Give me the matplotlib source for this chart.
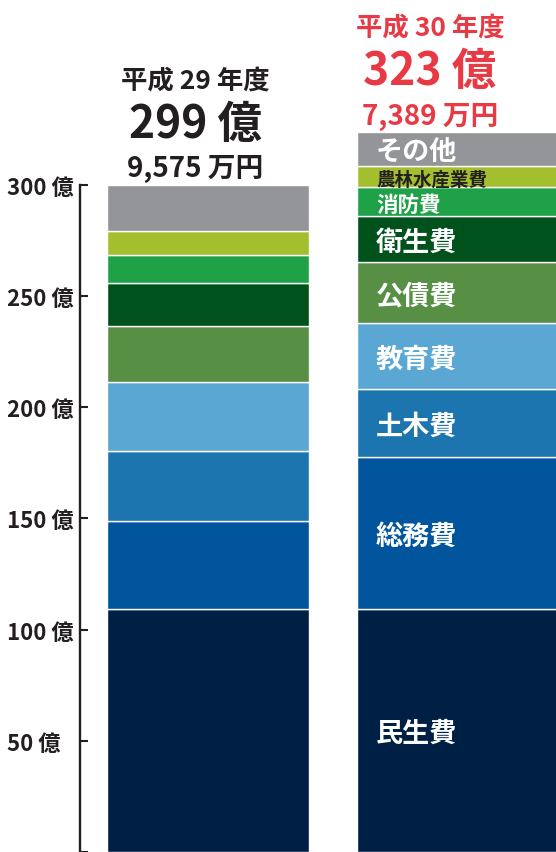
import matplotlib
matplotlib.use("Agg")
import matplotlib.pyplot as plt
import numpy as np

plt.rcParams["font.family"] = ["Noto Sans CJK JP", "DejaVu Sans"]

# data (億円), bottom to top
categories = ["民生費", "総務費", "土木費", "教育費", "公債費", "衛生費", "消防費", "農林水産業費", "その他"]
h29 = [109.2, 39.7, 31.5, 31.0, 25.0, 19.4, 12.8, 10.8, 20.56]
h30 = [109.4, 68.3, 30.7, 29.4, 27.4, 20.7, 13.2, 9.4, 15.2]
years = ["平成 29 年度", "平成 30 年度"]
totals_oku = ["299 億", "323 億"]
totals_man = ["9,575 万円", "7,389 万円"]
yticks = [0, 50, 100, 150, 200, 250, 300]
ytick_labels = ["", "50 億", "100 億", "150 億", "200 億", "250 億", "300 億"]

colors = ["#001F45", "#01559D", "#1D75AF", "#5AA7D3", "#578F45",
          "#00521C", "#1FA147", "#A4BF2E", "#939598"]
label_colors = ["white"] * 7 + ["#231F20", "white"]
label_sizes = [19.5, 19.5, 19.5, 19.5, 19.5, 19.5, 15.5, 13.3, 19.5]
dark = "#231F20"
red = "#E83A45"

W, H = 556, 853
fig = plt.figure(figsize=(W / 100, H / 100), dpi=100)
px_per_unit = 2.224
ax_left = 80
ax = fig.add_axes([ax_left / W, 0, 1 - ax_left / W, 1])

bar_w = 202 / 250
x = np.arange(2)
for xi, vals in zip(x, [h29, h30]):
    bottom = 0.0
    for v, c in zip(vals, colors):
        ax.bar(xi, v, bottom=bottom, width=bar_w, color=c, edgecolor="white",
               linewidth=1.0, zorder=2)
        bottom += v

# labels inside right bar (nudged down a little, the font's box sits high)
bottom = 0.0
for v, name, lc, fs in zip(h30, categories, label_colors, label_sizes):
    ax.text(1 - bar_w / 2 + 19 / 250, bottom + v / 2 - 1.2, name, color=lc,
            fontsize=fs, fontweight="bold", ha="left", va="center", zorder=3)
    bottom += v

# headers above bars
shifts = [-13 / 250, -28 / 250]
for xi, vals, yr, ok, mn, col, sh in zip(x, [h29, h30], years, totals_oku,
                                         totals_man, [dark, red], shifts):
    top = sum(vals)
    cx = xi + sh
    ax.text(cx, top + 47.2, yr, color=col, fontsize=19, fontweight="bold",
            ha="center", va="center")
    ax.text(cx, top + 27.3, ok, color=col, fontsize=32, fontweight="bold",
            ha="center", va="center")
    ax.text(cx, top + 7.4, mn, color=col, fontsize=20, fontweight="bold",
            ha="center", va="center")

ax.set_xlim((ax_left - 208) / 250, (W - 208) / 250)
ax.set_ylim(0, H / px_per_unit)

for s in ["top", "right", "bottom"]:
    ax.spines[s].set_visible(False)
ax.spines["left"].set_bounds(0, 300)
ax.spines["left"].set_linewidth(1.7)
ax.spines["left"].set_color(dark)
ax.set_xticks([])
ax.set_yticks(yticks, ytick_labels, ha="left", fontsize=16, fontweight="bold",
              color=dark)
ax.tick_params(axis="y", direction="in", length=6, width=1.5, color=dark,
               pad=(ax_left - 7) * 0.72)
ax.patch.set_alpha(0)

fig.savefig("out.png", dpi=100)
